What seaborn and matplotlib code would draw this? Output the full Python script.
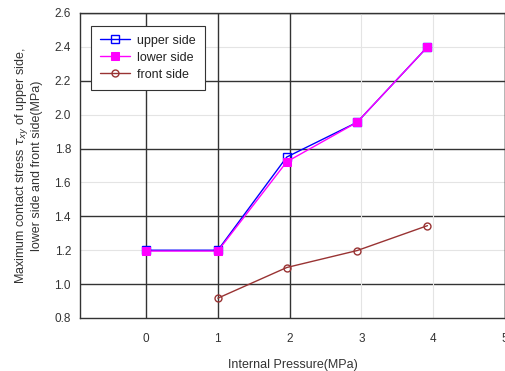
import matplotlib
matplotlib.use("Agg")
import matplotlib.pyplot as plt
import seaborn as sns
import pandas as pd

pressure_upper = [0, 1, 1.96, 2.94, 3.92]
upper_side = [1.2, 1.2, 1.75, 1.955, 2.40]
pressure_lower = [0, 1, 1.96, 2.94, 3.92]
lower_side = [1.195, 1.195, 1.722, 1.955, 2.40]
pressure_front = [1, 1.96, 2.94, 3.92]
front_side = [0.917, 1.098, 1.198, 1.345]

x_ticks = [0, 1, 2, 3, 4, 5]
y_ticks = [0.8, 1.0, 1.2, 1.4, 1.6, 1.8, 2.0, 2.2, 2.4, 2.6]

sns.set_style("white")
plt.rcParams['font.family'] = ['Liberation Sans', 'DejaVu Sans']

fig = plt.figure(figsize=(5.06, 3.71), dpi=100)
ax = fig.add_axes([80/506, 1-318/371, 425/506, 305/371])

# gridlines
for yv in y_ticks:
    dark = round(yv, 1) in (1.0, 1.4, 1.8, 2.2, 2.6)
    ax.axhline(yv, color='#333333' if dark else '#e4e4e4', lw=1.0 if dark else 0.8, zorder=0)
for xv in x_ticks:
    dark = xv in (0, 1, 2, 5)
    ax.axvline(xv, color='#333333' if dark else '#e4e4e4', lw=1.0 if dark else 0.8, zorder=0)

df_u = pd.DataFrame({'x': pressure_upper, 'y': upper_side})
df_l = pd.DataFrame({'x': pressure_lower, 'y': lower_side})
df_f = pd.DataFrame({'x': pressure_front, 'y': front_side})

sns.lineplot(data=df_u, x='x', y='y', ax=ax, color='#0000ff', marker='s', markersize=6,
             markerfacecolor='none', markeredgecolor='#0000ff', markeredgewidth=1.0, lw=1.0,
             label='upper side')
sns.lineplot(data=df_l, x='x', y='y', ax=ax, color='#ff00ff', marker='s', markersize=6,
             markerfacecolor='#ff00ff', markeredgecolor='#ff00ff', lw=1.0, label='lower side')
sns.lineplot(data=df_f, x='x', y='y', ax=ax, color='#993333', marker='o', markersize=5,
             markerfacecolor='none', markeredgecolor='#993333', markeredgewidth=1.0, lw=1.0,
             label='front side')

ax.set_xlim(-0.92, 5)
ax.set_ylim(0.8, 2.6)
ax.set_xticks(x_ticks)
ax.set_yticks(y_ticks)
ax.set_yticklabels([f"{v:.1f}" for v in y_ticks])
ax.tick_params(axis='both', labelsize=8.5, colors='#333333', length=3, direction='out', width=0.8)
ax.tick_params(axis='x', pad=8)
for s in ax.spines.values():
    s.set_color('#333333')
    s.set_linewidth(1.0)

ax.set_xlabel('Internal Pressure(MPa)', fontsize=9, color='#333333', labelpad=10)
ax.set_ylabel('Maximum contact stress $\\tau_{xy}$ of upper side,\nlower side and front side(MPa)',
              fontsize=9, color='#333333', labelpad=8)

leg = ax.legend(loc='upper left', bbox_to_anchor=(0.026, 0.957), borderaxespad=0,
                fontsize=9, frameon=True, fancybox=False, edgecolor='#333333', framealpha=1,
                handlelength=2.4, borderpad=0.7, labelspacing=0.4, handletextpad=0.6)
leg.get_frame().set_linewidth(0.8)
for t in leg.get_texts():
    t.set_color('#222222')

fig.savefig('out.png', dpi=100)
